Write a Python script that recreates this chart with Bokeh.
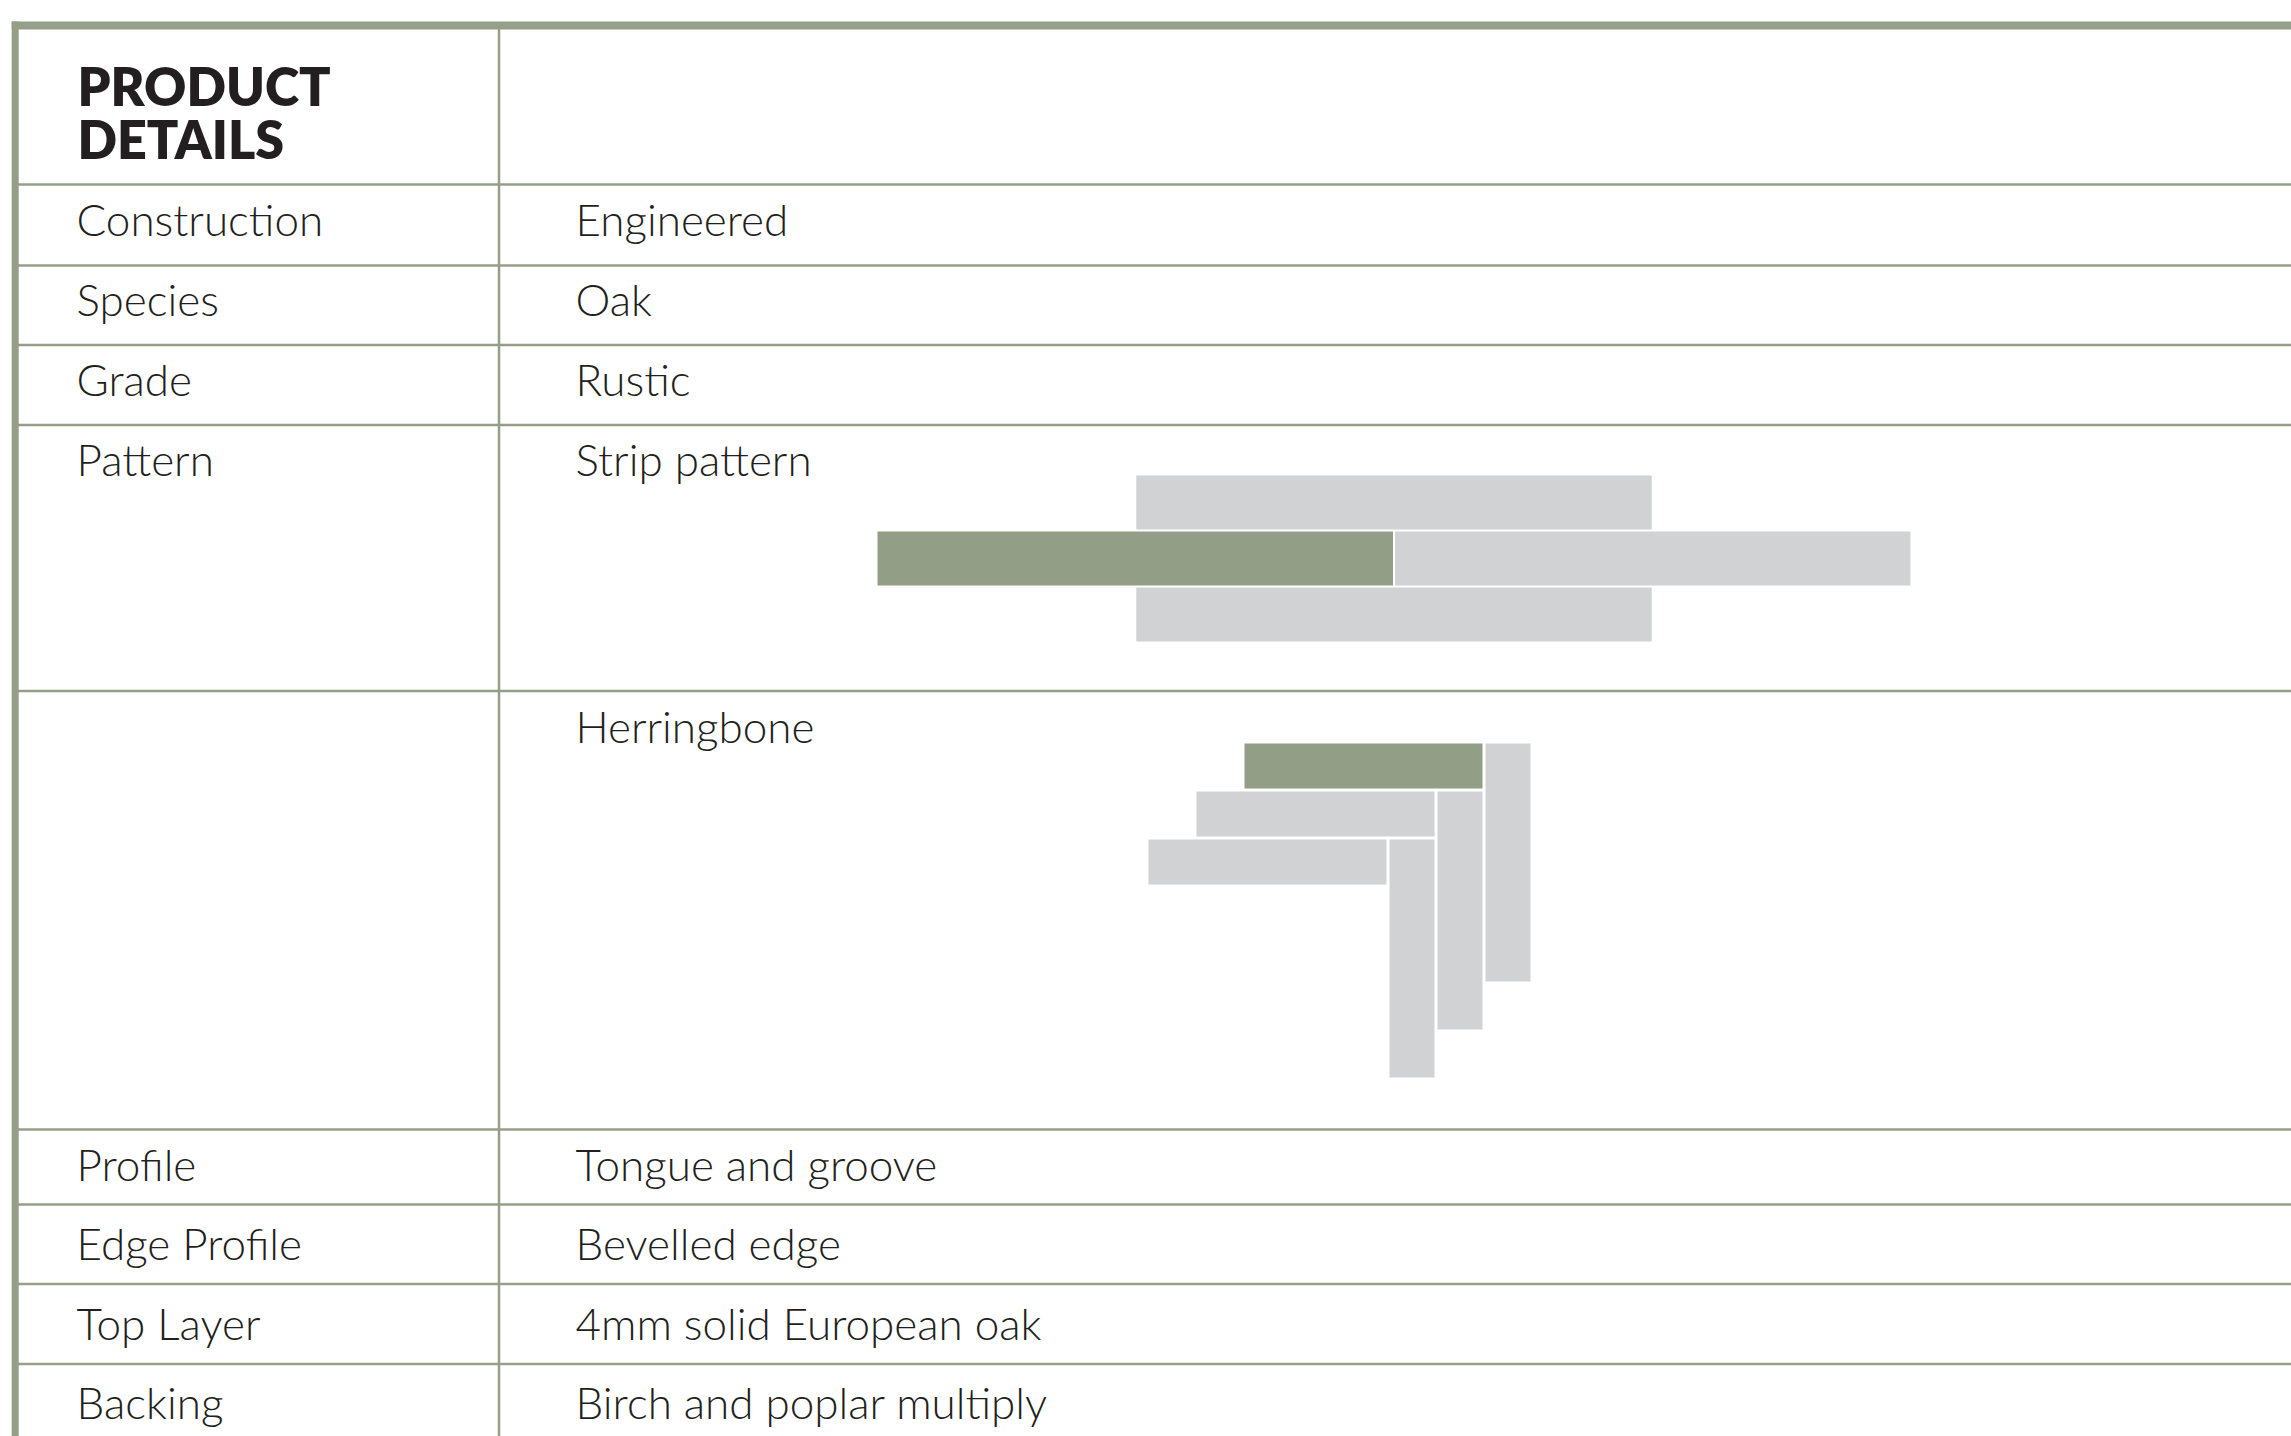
from bokeh.plotting import figure
from bokeh.models import Range1d, ColumnDataSource
from bokeh.core.properties import value
from bokeh.embed import file_html
from bokeh.resources import INLINE

# ---------------- data ----------------
header_lines = ["PRODUCT", "DETAILS"]
row_labels = ["Construction", "Species", "Grade", "Pattern", "",
              "Profile", "Edge Profile", "Top Layer", "Backing"]
row_values = ["Engineered", "Oak", "Rustic", "Strip pattern", "Herringbone",
              "Tongue and groove", "Bevelled edge", "4mm solid European oak",
              "Birch and poplar multiply"]

# strip pattern planks (row index, start in plank lengths, highlighted?)
strip_row = [0, 1, 1, 2]
strip_start = [0.5, 0.0, 1.0, 0.5]
strip_highlight = [False, True, False, False]

# herringbone planks (step index, orientation, highlighted?)
herring_step = [0, 1, 2, 0, 1, 2]
herring_orient = ["h", "h", "h", "v", "v", "v"]
herring_highlight = [True, False, False, False, False, False]

# ---------------- layout (page pixels) ----------------
W, H = 2291, 1436
BORDER = "#959f88"
GREEN = "#939e86"
GRAY = "#d1d2d4"
TEXT = "#231f20"

left_border_x = 14.7
top_border_y = 25
col_x = 498.5
row_lines = [184, 265, 344.5, 424.5, 690.5, 1129, 1204, 1283.5, 1363.5]
header_baselines = [104, 157]
row_baselines = [237, 317, 397, 477, 744, 1182, 1261, 1341, 1420]
header_x = 77
label_x = 76
value_x = 575
TEXT_DY = -19  # renderer baseline correction
right_edge = W + 20
bottom_edge = H + 20

p = figure(width=W, height=H, output_backend="svg", toolbar_location=None,
           x_range=Range1d(0, W), y_range=Range1d(H, 0),
           x_axis_type=None, y_axis_type=None, min_border=0)
p.grid.visible = False
p.outline_line_color = None
p.background_fill_color = "white"
p.border_fill_color = "white"

# grid lines
p.segment(x0=[left_border_x] * len(row_lines), x1=[right_edge] * len(row_lines),
          y0=row_lines, y1=row_lines, line_color=BORDER, line_width=2.5)
p.segment(x0=[col_x], x1=[col_x], y0=[top_border_y], y1=[bottom_edge],
          line_color=BORDER, line_width=2.5)
# outer border
p.segment(x0=[left_border_x - 3.5], x1=[right_edge], y0=[top_border_y], y1=[top_border_y],
          line_color=BORDER, line_width=8)
p.segment(x0=[left_border_x], x1=[left_border_x], y0=[top_border_y - 4], y1=[bottom_edge],
          line_color=BORDER, line_width=7)

# header text (heavy weight passed through a style column)
hsrc = ColumnDataSource(dict(x=[header_x] * 2,
                             y=[b + TEXT_DY for b in header_baselines],
                             t=header_lines, fw=["800"] * 2))
p.text(x="x", y="y", text="t", source=hsrc,
       text_font=value("Lato"), text_font_style={"field": "fw"},
       text_font_size="52px",
       text_color=TEXT, text_baseline="alphabetic", text_align="left")

# row texts (light weight)
n = len(row_labels)
rsrc = ColumnDataSource(dict(
    x=[label_x] * n + [value_x] * n,
    y=[b + TEXT_DY for b in row_baselines] * 2,
    t=row_labels + row_values,
    fw=["300"] * (2 * n)))
p.text(x="x", y="y", text="t", source=rsrc,
       text_font=value("Lato"), text_font_style={"field": "fw"},
       text_font_size="44px",
       text_color=TEXT, text_baseline="alphabetic", text_align="left")

# strip pattern planks
sx0, sy0, sL, sW, sgap = 877, 475, 515.5, 54, 2
sl = [sx0 + s * (sL + sgap) for s in strip_start]
sr = [a + sL for a in sl]
st = [sy0 + r * (sW + sgap) for r in strip_row]
sb = [a + sW for a in st]
scol = [GREEN if h else GRAY for h in strip_highlight]
p.quad(left=sl, right=sr, top=st, bottom=sb, fill_color=scol, line_color=None)

# herringbone planks
hx0, hy0, hL, hW, hstep = 1244, 743, 238, 45, 48
hl, hr, ht, hb = [], [], [], []
for k, o in zip(herring_step, herring_orient):
    if o == "h":
        l = hx0 - k * hstep
        t = hy0 + k * hstep
        hl.append(l); hr.append(l + hL); ht.append(t); hb.append(t + hW)
    else:
        l = hx0 + hL + 3 - k * hstep
        t = hy0 + k * hstep
        hl.append(l); hr.append(l + hW); ht.append(t); hb.append(t + hL)
hcol = [GREEN if h else GRAY for h in herring_highlight]
p.quad(left=hl, right=hr, top=ht, bottom=hb, fill_color=hcol, line_color=None)

open("out.html", "w").write(file_html(p, INLINE))
